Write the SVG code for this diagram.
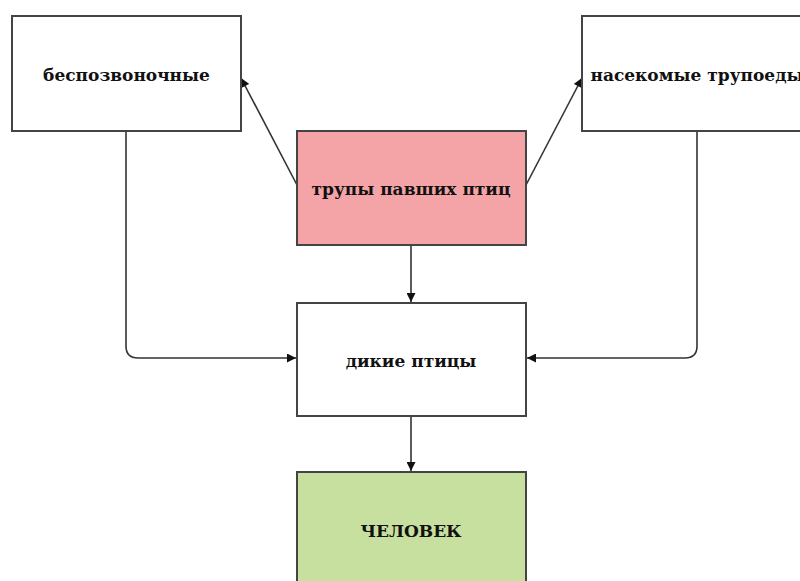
<svg xmlns="http://www.w3.org/2000/svg" width="800" height="581" viewBox="0 0 800 581">
<style>
.box{stroke:#444;stroke-width:2}
.lbl{font-family:"DejaVu Serif","Liberation Serif",serif;font-weight:bold;font-size:17px;fill:#111;text-anchor:middle;dominant-baseline:central}
.con{fill:none;stroke:#333;stroke-width:1.6}
</style>
<defs>
<marker id="ah" viewBox="0 0 10 10" refX="10" refY="5" markerWidth="10" markerHeight="9" markerUnits="userSpaceOnUse" orient="auto"><path d="M0,0 L10,5 L0,10 z" fill="#111"/></marker>
</defs>
<rect width="800" height="581" fill="#fff"/>
<g id="connectors">
<path class="con" d="M297,185 L241,78" marker-end="url(#ah)"/>
<path class="con" d="M526,185 L582,78" marker-end="url(#ah)"/>
<path class="con" d="M411,245 L411,302" marker-end="url(#ah)"/>
<path class="con" d="M411,416 L411,471" marker-end="url(#ah)"/>
<path class="con" d="M126,131 L126,346 Q126,358 138,358 L296,358" marker-end="url(#ah)"/>
<path class="con" d="M697,131 L697,346 Q697,358 685,358 L527,358" marker-end="url(#ah)"/>
</g>
<g id="bespozvonochnye">
<rect class="box" x="12" y="16" width="229" height="115" fill="#fff"/>
<text class="lbl" x="126.5" y="75">беспозвоночные</text>
</g>
<g id="nasekomye">
<rect class="box" x="582" y="16" width="229" height="115" fill="#fff"/>
<text class="lbl" x="697" y="75">насекомые трупоеды</text>
</g>
<g id="trupy">
<rect class="box" x="297" y="131" width="229" height="114" fill="#f4a3a6"/>
<text class="lbl" x="411" y="189">трупы павших птиц</text>
</g>
<g id="dikie">
<rect class="box" x="297" y="303" width="229" height="113" fill="#fff"/>
<text class="lbl" x="411" y="361">дикие птицы</text>
</g>
<g id="chelovek">
<rect class="box" x="297" y="472" width="229" height="120" fill="#c7df9f"/>
<text class="lbl" x="411" y="531">ЧЕЛОВЕК</text>
</g>
</svg>
